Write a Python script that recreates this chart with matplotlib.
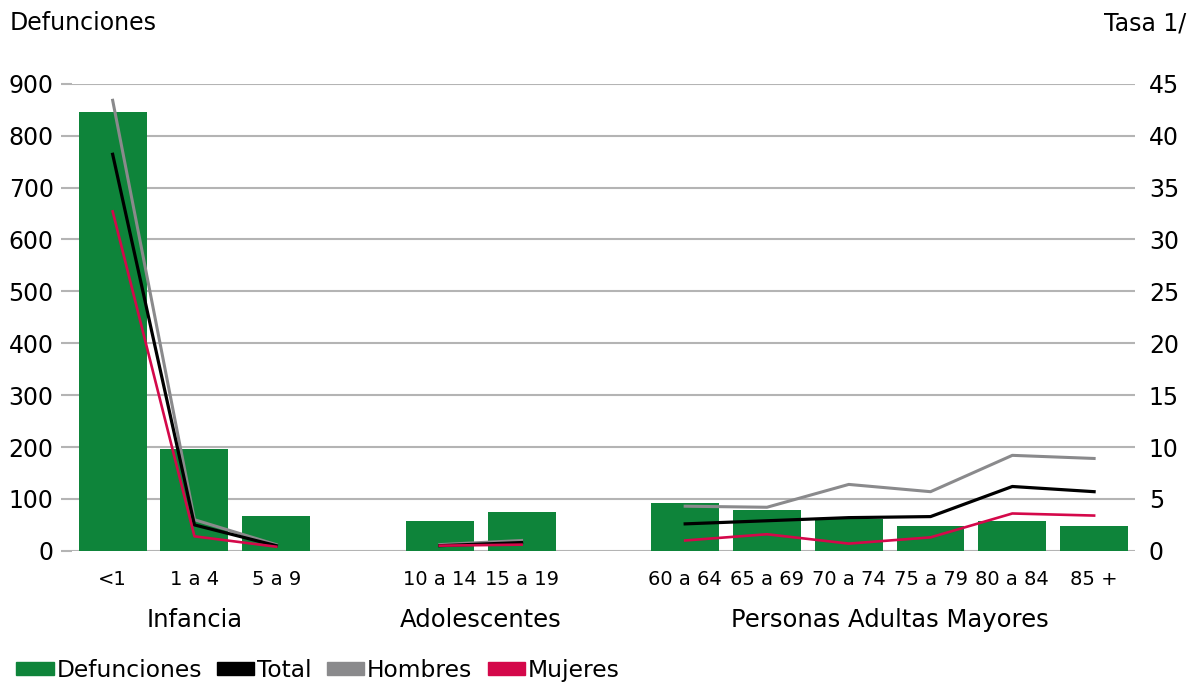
import numpy as np
import matplotlib.pyplot as plt

plt.rcParams['font.family'] = ['DejaVu Sans']

# data
grupos = ['<1', '1 a 4', '5 a 9', '10 a 14', '15 a 19',
          '60 a 64', '65 a 69', '70 a 74', '75 a 79', '80 a 84', '85 +']
slots = [0, 1, 2, 4, 5, 7, 8, 9, 10, 11, 12]
defunciones = [845, 197, 67, 57, 75, 93, 78, 62, 48, 57, 47]
total = [38.2, 2.5, 0.5, 0.5, 0.8, 2.6, 2.9, 3.2, 3.3, 6.2, 5.7]
hombres = [43.4, 3.0, 0.6, 0.6, 1.0, 4.3, 4.2, 6.4, 5.7, 9.2, 8.9]
mujeres = [32.7, 1.4, 0.4, 0.5, 0.6, 1.0, 1.6, 0.7, 1.3, 3.6, 3.4]
tramos = [(0, 3), (3, 5), (5, 11)]
etapas = ['Infancia', 'Adolescentes', 'Personas Adultas Mayores']

verde = '#0e843a'
gris = '#8a8a8c'
rojo = '#d4084a'

fig = plt.figure(figsize=(11.96, 6.86), dpi=100)
ax = fig.add_axes([0.060, 0.197, 0.889, 0.681])
ax2 = ax.twinx()

ax.bar(slots, defunciones, width=0.83, color=verde, zorder=2)
for a, b in tramos:
    xs = slots[a:b]
    ax2.plot(xs, hombres[a:b], color=gris, lw=2.2, zorder=3)
    ax2.plot(xs, total[a:b], color='black', lw=2.3, zorder=4)
    ax2.plot(xs, mujeres[a:b], color=rojo, lw=1.9, zorder=5)

ax.set_xlim(-0.5, 12.5)
ax.set_ylim(0, 900)
ax.set_yticks(range(0, 901, 100))
ax2.set_ylim(0, 45)
ax2.set_yticks(range(0, 46, 5))
ax.yaxis.grid(True, color='#b4b4b4', lw=1.5, zorder=0)
ax.set_axisbelow(True)
ax.set_zorder(ax2.get_zorder() - 1)
ax.patch.set_visible(True)
ax2.patch.set_visible(False)

for s in ['top', 'right', 'left', 'bottom']:
    ax.spines[s].set_visible(False)
    ax2.spines[s].set_visible(False)

ax.set_xticks(slots)
ax.set_xticklabels(grupos, fontsize=14)
ax.tick_params(axis='x', length=0, pad=14)
ax.tick_params(axis='y', labelsize=17, length=8, color='#b4b4b4', width=1.5, pad=5)
ax2.tick_params(axis='y', labelsize=17, length=0, pad=10)

for (a, b), etapa in zip(tramos, etapas):
    xc = (slots[a] + slots[b - 1]) / 2
    ax.text(xc, -0.148, etapa, transform=ax.get_xaxis_transform(),
            ha='center', va='center', fontsize=17.5)

fig.text(0.008, 0.966, 'Defunciones', fontsize=17, va='center')
fig.text(0.992, 0.966, 'Tasa 1/', fontsize=17, va='center', ha='right')

handles = [plt.Rectangle((0, 0), 1, 1, color=c) for c in [verde, 'black', gris, rojo]]
fig.legend(handles, ['Defunciones', 'Total', 'Hombres', 'Mujeres'],
           loc='lower left', bbox_to_anchor=(0.0, -0.018), ncol=4, frameon=False,
           fontsize=16.8, handlelength=1.6, handleheight=0.45, handletextpad=0.12,
           columnspacing=0.65, borderaxespad=0.3)

fig.savefig('out.png', dpi=100)
